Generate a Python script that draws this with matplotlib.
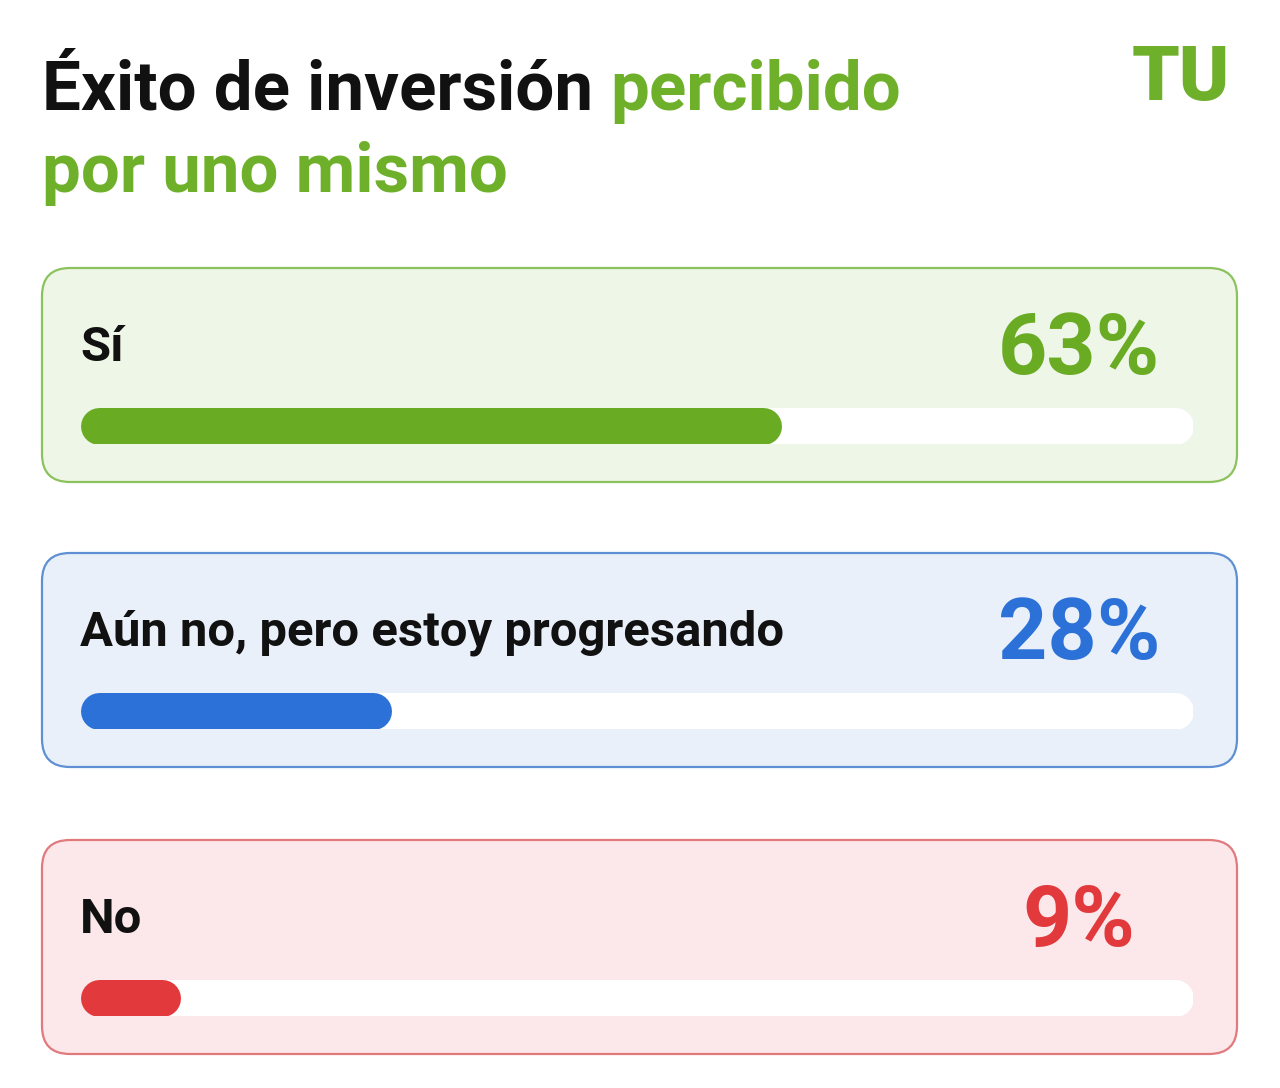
import matplotlib
matplotlib.use("Agg")
import matplotlib.pyplot as plt
from matplotlib.patches import FancyBboxPatch

# data
categories = ["Sí", "Aún no, pero estoy progresando", "No"]
shares = [63, 28, 9]
title_black = "Éxito de inversión"
title_green_1 = "percibido"
title_green_2 = "por uno mismo"
logo_text = "TU"

# colours per card: text/bar, card fill, card border
accent = ["#6aab24", "#2c71d8", "#e1393c"]
card_fill = ["#eef6e8", "#e9f0fa", "#fce8ea"]
card_edge = ["#8cc25c", "#5f90d4", "#e2797d"]
title_green = "#6fb02b"

W, H = 1280, 1088
FONT = "Roboto"

fig = plt.figure(figsize=(W / 100, H / 100), dpi=100)
fig.patch.set_facecolor("white")

# full-figure pixel canvas for cards and text
ax = fig.add_axes([0, 0, 1, 1])
ax.set_xlim(0, W)
ax.set_ylim(H, 0)
ax.axis("off")


def px(size_px):
    return size_px * 0.72


# title
t1 = ax.text(42, 110, title_black, fontsize=px(69), fontweight="bold",
             family=FONT, color="#111111", va="baseline", ha="left")
ax.annotate(title_green_1, xy=(1, 0), xycoords=t1, xytext=(12, 0),
            textcoords="offset points", fontsize=px(69), fontweight="bold",
            family=FONT, color=title_green, va="bottom", ha="left")
ax.text(42, 192, title_green_2, fontsize=px(69), fontweight="bold",
        family=FONT, color=title_green, va="baseline", ha="left")

# logo
ax.text(1230, 100, logo_text, fontsize=px(76), fontweight="black",
        family=FONT, color=title_green, va="baseline", ha="right")

card_tops = [268, 553, 840]
card_h = 214
card_x0, card_x1 = 42, 1237
track_x0, track_x1 = 80, 1193
track_h = 37

for i, (cat, val) in enumerate(zip(categories, shares)):
    top = card_tops[i]
    ax.add_patch(FancyBboxPatch((card_x0, top), card_x1 - card_x0, card_h,
                                boxstyle="round,pad=0,rounding_size=28",
                                fc=card_fill[i], ec=card_edge[i], lw=1.6))
    ax.text(80, top + 93, cat, fontsize=px(49), fontweight="bold",
            family=FONT, color="#111111", va="baseline", ha="left")
    ax.text(1079, top + 106, f"{val}%", fontsize=px(86), fontweight="bold",
            family=FONT, color=accent[i], va="baseline", ha="center")

    # progress bar on its own 0-100 axis
    bax = fig.add_axes([track_x0 / W, 1 - (top + 176) / H,
                        (track_x1 - track_x0) / W, track_h / H])
    bax.set_xlim(0, 100)
    bax.set_ylim(-1, 1)
    bax.axis("off")
    r = (track_h / 2) / ((track_x1 - track_x0) / 100)
    lw = px(track_h)
    bax.plot([r, 100 - r], [0, 0], color="white", lw=lw,
             solid_capstyle="round")
    bax.plot([r, val - r], [0, 0], color=accent[i], lw=lw,
             solid_capstyle="round")

fig.savefig("out.png", dpi=100, facecolor="white")
